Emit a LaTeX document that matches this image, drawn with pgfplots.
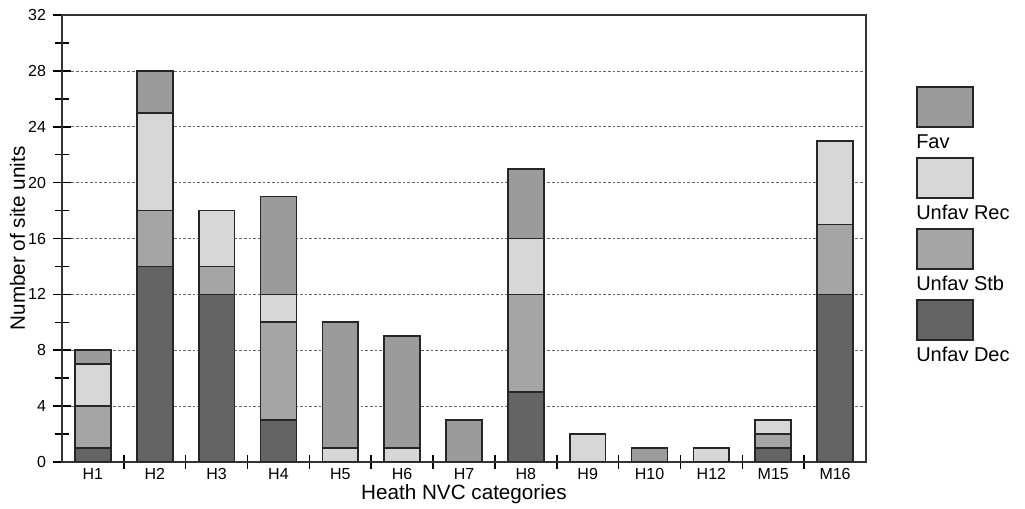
\documentclass[border=0pt]{standalone}
\usepackage{pgfplots}
\pgfplotsset{compat=1.18}
\usepackage{pgfplotstable}
\usepackage{fontspec}
\setmainfont{Liberation Sans}
\definecolor{cFav}{RGB}{155,155,155}
\definecolor{cRec}{RGB}{215,215,215}
\definecolor{cStb}{RGB}{165,165,165}
\definecolor{cDec}{RGB}{100,100,100}
\pgfplotstableread{
x Dec Stb Rec Fav
0 1 3 3 1
1 14 4 7 3
2 12 2 4 0
3 3 7 2 7
4 0 0 1 9
5 0 0 1 8
6 0 0 0 3
7 5 7 4 5
8 0 0 2 0
9 0 0 0 1
10 0 0 1 0
11 1 1 1 0
12 12 5 6 0
}\datatable
\begin{document}
\begin{tikzpicture}
\begin{axis}[
  scale only axis,
  width=603pt, height=335.25pt,
  ybar stacked,
  bar width=0.58,
  xmin=-0.5, xmax=12.5,
  ymin=0, ymax=32,
  xtick={0,...,12},
  xticklabels={H1,H2,H3,H4,H5,H6,H7,H8,H9,H10,H12,M15,M16},
  minor xtick={0.5,1.5,...,11.5},
  ytick={0,4,...,32},
  minor ytick={2,6,...,30},
  xtick pos=bottom, ytick pos=left,
  x tick style={draw=none},
  minor x tick style={draw=black, line width=1.2pt},
  y tick style={draw=black, line width=1.2pt},
  minor y tick style={draw=black, line width=1.2pt},
  tick align=center,
  major tick length=13pt,
  minor tick length=10.5pt,
  ymajorgrids,
  major grid style={dash pattern=on 2pt off 1.5pt, line width=0.5pt, black!60},
  axis line style={line width=1.5pt, black!80},
  /pgf/number format/assume math mode=true,
  tick label style={font=\fontsize{12}{14}\selectfont},
  xticklabel style={yshift=5pt},
  yticklabel style={xshift=-2pt},
  xlabel={Heath NVC categories},
  ylabel={Number of site units},
  xlabel style={font=\fontsize{15.5}{17}\selectfont, yshift=3.5pt},
  ylabel style={font=\fontsize{15.5}{17}\selectfont, yshift=-4.5pt},
  every axis plot/.append style={draw=black!85, line width=1.3pt},
]
\addplot[fill=cDec] table[x=x, y=Dec]{\datatable};
\addplot[fill=cStb] table[x=x, y=Stb]{\datatable};
\addplot[fill=cRec] table[x=x, y=Rec]{\datatable};
\addplot[fill=cFav] table[x=x, y=Fav]{\datatable};
\end{axis}
% legend (manual, boxes with labels beneath)
\foreach \c/\t [count=\i from 0] in {cFav/Fav, cRec/Unfav Rec, cStb/Unfav Stb, cDec/Unfav Dec}{
  \draw[fill=\c, draw=black!85, line width=1.3pt]
    ([xshift=38.25pt, yshift=-54pt-\i*53.25pt]current axis.north east) rectangle ++(42pt,-30pt);
  \node[anchor=base west, inner sep=0pt, font=\fontsize{15}{17}\selectfont]
    at ([xshift=37.5pt, yshift=-100pt-\i*53.25pt]current axis.north east) {\t};
}
\path ([xshift=-46.5pt,yshift=-33.75pt]current axis.south west) rectangle ([xshift=119.25pt,yshift=11.25pt]current axis.north east);
\end{tikzpicture}
\end{document}
